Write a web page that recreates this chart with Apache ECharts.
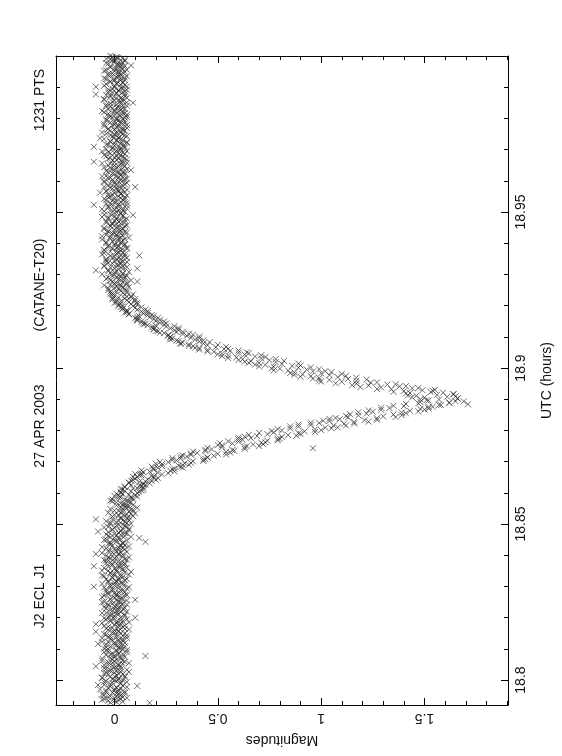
<!DOCTYPE html>
<html><head><meta charset="utf-8">
<script src="https://cdn.jsdelivr.net/npm/echarts@6/dist/echarts.min.js"></script>
<style>html,body{margin:0;padding:0;background:#fff}#c{width:562px;height:756px}</style>
</head><body><div id="c"></div>
<script>
// ---- data (UTC hours, magnitudes), two interleaved read-outs per phase ----
const preUtc=[18.7927,18.7930,18.7933,18.7936,18.7939,18.7942,18.7945,18.7948,18.7951,18.7954,
18.7957,18.7960,18.7963,18.7966,18.7969,18.7972,18.7975,18.7978,18.7981,18.7984,
18.7987,18.7990,18.7993,18.7996,18.7999,18.8002,18.8005,18.8008,18.8011,18.8014,
18.8017,18.8020,18.8023,18.8026,18.8029,18.8032,18.8035,18.8038,18.8041,18.8044,
18.8047,18.8050,18.8053,18.8056,18.8059,18.8062,18.8065,18.8068,18.8071,18.8074,
18.8077,18.8080,18.8083,18.8086,18.8089,18.8092,18.8095,18.8098,18.8101,18.8104,
18.8107,18.8110,18.8113,18.8116,18.8119,18.8122,18.8125,18.8128,18.8131,18.8134,
18.8137,18.8140,18.8143,18.8146,18.8149,18.8152,18.8155,18.8158,18.8161,18.8164,
18.8167,18.8170,18.8173,18.8176,18.8179,18.8182,18.8185,18.8188,18.8191,18.8194,
18.8197,18.8200,18.8203,18.8206,18.8209,18.8212,18.8215,18.8218,18.8221,18.8224,
18.8227,18.8230,18.8233,18.8236,18.8239,18.8242,18.8245,18.8248,18.8251,18.8254,
18.8257,18.8260,18.8263,18.8266,18.8269,18.8272,18.8275,18.8278,18.8281,18.8284,
18.8287,18.8290,18.8293,18.8296,18.8299,18.8302,18.8305,18.8308,18.8311,18.8314,
18.8317,18.8320,18.8323,18.8326,18.8329,18.8332,18.8335,18.8338,18.8341,18.8344,
18.8347,18.8350,18.8353,18.8356,18.8359,18.8362,18.8365,18.8368,18.8371,18.8374,
18.8377,18.8380,18.8383,18.8386,18.8389,18.8392,18.8395,18.8398,18.8401,18.8404,
18.8407,18.8410,18.8413,18.8416,18.8419,18.8422,18.8425,18.8428,18.8431,18.8434,
18.8437,18.8440,18.8443,18.8446,18.8449,18.8452,18.8455,18.8458,18.8461,18.8464,
18.8467,18.8470,18.8473,18.8476,18.8479,18.8482,18.8485,18.8488,18.8491,18.8494,
18.8497,18.8500,18.8503,18.8506,18.8509,18.8512,18.8515,18.8518,18.8521,18.8524,
18.8527,18.8530,18.8533,18.8536,18.8539,18.8542,18.8545,18.8548,18.8551,18.8554,
18.8557,18.8560,18.8563,18.8566];
const preMag=[0.17,0.01,-0.03,0.02,-0.05,0.00,0.04,-0.02,0.03,-0.06,
0.01,-0.01,0.05,-0.04,0.02,0.00,-0.03,0.06,0.11,-0.08,
-0.02,0.03,-0.05,0.01,0.04,-0.01,0.02,-0.06,0.00,0.05,
-0.03,0.02,-0.04,0.07,0.01,-0.02,0.03,-0.05,0.00,-0.09,
0.02,-0.03,0.04,-0.01,0.05,-0.06,0.01,0.03,-0.02,0.00,
0.15,-0.04,0.02,-0.01,0.06,-0.03,0.01,0.04,-0.05,0.02,
-0.02,0.03,0.00,-0.08,0.05,-0.03,0.02,-0.01,0.04,-0.06,
0.01,-0.02,0.06,-0.04,0.03,0.00,-0.09,0.02,-0.03,0.05,
-0.01,0.04,-0.05,0.02,-0.09,0.01,0.07,-0.02,0.03,-0.04,
0.00,0.10,-0.03,0.05,-0.01,0.02,-0.06,0.03,0.01,-0.02,
0.04,-0.04,0.02,0.00,-0.03,0.06,-0.01,0.03,-0.05,0.01,
0.10,-0.02,0.03,-0.06,0.01,0.05,-0.03,0.00,0.02,-0.04,
0.03,-0.01,0.06,-0.05,-0.10,0.02,-0.02,0.04,0.00,-0.03,
0.01,0.05,-0.04,0.02,-0.01,0.03,-0.06,0.07,0.00,-0.02,
0.08,-0.03,0.01,0.04,-0.05,0.02,-0.10,0.03,-0.01,0.05,
-0.02,0.02,-0.04,0.06,0.00,-0.03,0.04,-0.01,0.02,-0.09,
-0.06,0.03,0.01,-0.02,0.05,-0.04,0.02,0.07,-0.01,0.03,
-0.03,0.04,0.15,0.00,-0.05,0.03,0.12,-0.02,0.05,0.01,
-0.04,0.06,0.02,-0.08,0.03,-0.01,0.07,0.00,-0.03,0.05,
0.02,-0.02,0.06,0.01,-0.04,0.04,-0.09,0.03,0.07,-0.01,
0.05,0.00,0.08,-0.03,0.04,0.02,0.09,-0.02,0.06,0.03,
0.07,0.01,0.05,0.03];
const preUtc2=[18.7928,18.7931,18.7934,18.7937,18.7940,18.7943,18.7946,18.7949,18.7952,18.7955,
18.7958,18.7961,18.7964,18.7967,18.7970,18.7973,18.7976,18.7979,18.7982,18.7985,
18.7988,18.7991,18.7994,18.7997,18.8000,18.8003,18.8006,18.8009,18.8012,18.8015,
18.8018,18.8021,18.8024,18.8027,18.8030,18.8033,18.8036,18.8039,18.8042,18.8045,
18.8048,18.8051,18.8054,18.8057,18.8060,18.8063,18.8066,18.8069,18.8072,18.8075,
18.8078,18.8081,18.8084,18.8087,18.8090,18.8093,18.8096,18.8099,18.8102,18.8105,
18.8108,18.8111,18.8114,18.8117,18.8120,18.8123,18.8126,18.8129,18.8132,18.8135,
18.8138,18.8141,18.8144,18.8147,18.8150,18.8153,18.8156,18.8159,18.8162,18.8165,
18.8168,18.8171,18.8174,18.8177,18.8180,18.8183,18.8186,18.8189,18.8192,18.8195,
18.8198,18.8201,18.8204,18.8207,18.8210,18.8213,18.8216,18.8219,18.8222,18.8225,
18.8228,18.8231,18.8234,18.8237,18.8240,18.8243,18.8246,18.8249,18.8252,18.8255,
18.8258,18.8261,18.8264,18.8267,18.8270,18.8273,18.8276,18.8279,18.8282,18.8285,
18.8288,18.8291,18.8294,18.8297,18.8300,18.8303,18.8306,18.8309,18.8312,18.8315,
18.8318,18.8321,18.8324,18.8327,18.8330,18.8333,18.8336,18.8339,18.8342,18.8345,
18.8348,18.8351,18.8354,18.8357,18.8360,18.8363,18.8366,18.8369,18.8372,18.8375,
18.8378,18.8381,18.8384,18.8387,18.8390,18.8393,18.8396,18.8399,18.8402,18.8405,
18.8408,18.8411,18.8414,18.8417,18.8420,18.8423,18.8426,18.8429,18.8432,18.8435,
18.8438,18.8441,18.8444,18.8447,18.8450,18.8453,18.8456,18.8459,18.8462,18.8465,
18.8468,18.8471,18.8474,18.8477,18.8480,18.8483,18.8486,18.8489,18.8492,18.8495,
18.8498,18.8501,18.8504,18.8507,18.8510,18.8513,18.8516,18.8519,18.8522,18.8525,
18.8528,18.8531,18.8534,18.8537,18.8540,18.8543,18.8546,18.8549,18.8552,18.8555,
18.8558,18.8561,18.8564];
const preMag2=[-0.02,0.04,0.00,-0.06,0.03,0.06,-0.03,0.01,-0.05,0.02,
0.05,-0.04,0.02,0.00,-0.07,0.03,0.01,-0.02,0.04,-0.05,
0.03,-0.01,0.06,-0.04,0.00,0.02,-0.06,0.05,-0.02,0.01,
0.04,-0.05,0.00,0.03,-0.02,0.06,-0.04,0.01,0.03,-0.01,
-0.05,0.02,0.07,-0.03,0.00,0.04,-0.01,-0.06,0.03,0.05,
0.00,-0.02,0.04,0.02,-0.05,0.01,0.06,-0.03,0.03,-0.04,
0.05,0.01,-0.04,0.03,0.00,-0.06,0.04,0.02,-0.02,0.06,
-0.03,0.04,0.01,-0.05,0.05,-0.01,0.02,0.00,0.07,-0.04,
0.02,-0.03,0.05,0.00,0.03,-0.06,0.01,0.04,-0.02,0.06,
-0.05,0.03,0.00,-0.02,0.05,0.01,-0.04,0.06,-0.01,0.02,
0.00,0.05,-0.05,0.03,0.01,-0.03,0.04,-0.06,0.02,0.06,
-0.02,0.04,0.00,0.02,-0.05,0.06,0.01,-0.03,0.05,-0.01,
0.04,-0.04,0.02,0.07,-0.02,0.00,0.05,-0.06,0.03,0.01,
-0.03,0.02,0.06,-0.01,0.04,-0.05,0.00,0.03,-0.02,0.05,
0.01,-0.06,0.04,0.00,0.06,-0.03,0.02,-0.01,0.05,-0.04,
0.03,0.00,-0.05,0.05,-0.02,0.07,0.01,-0.04,0.04,0.02,
-0.01,0.06,-0.03,0.02,0.00,0.04,-0.06,0.03,0.05,-0.02,
0.04,-0.02,0.01,0.06,-0.04,0.02,0.00,0.08,-0.03,0.03,
0.00,0.05,-0.03,0.03,0.07,-0.01,0.04,-0.05,0.06,0.01,
0.04,0.08,-0.02,0.05,0.02,0.07,-0.01,0.06,0.03,0.09,
0.02,0.06,0.10,0.03,0.07,0.00,0.08,0.04,0.11,0.05,
0.06,0.09,0.04];
const ingressUtc=[18.8569,18.8572,18.8575,18.8578,18.8581,18.8584,18.8587,18.8590,18.8593,18.8596,
18.8599,18.8602,18.8605,18.8608,18.8611,18.8614,18.8617,18.8620,18.8623,18.8626,
18.8629,18.8632,18.8635,18.8638,18.8641,18.8644,18.8647,18.8650,18.8653,18.8656,
18.8659,18.8662,18.8665,18.8668,18.8671,18.8674,18.8677,18.8680,18.8683,18.8686,
18.8689,18.8692,18.8695,18.8698,18.8701,18.8704,18.8707,18.8710,18.8713,18.8716,
18.8719,18.8722,18.8725,18.8728,18.8731,18.8734,18.8737,18.8740,18.8743,18.8746,
18.8749,18.8752,18.8755,18.8758,18.8761,18.8764,18.8767,18.8770,18.8773,18.8776,
18.8779,18.8782,18.8785,18.8788,18.8791,18.8794,18.8797,18.8800,18.8803,18.8806,
18.8809,18.8812,18.8815,18.8818,18.8821,18.8824,18.8827,18.8830,18.8833,18.8836,
18.8839,18.8842,18.8845,18.8848,18.8851,18.8854,18.8857,18.8860,18.8863,18.8866,
18.8869,18.8872,18.8875,18.8878,18.8881,18.8884,18.8887,18.8890,18.8893,18.8896];
const ingressMag=[0.01,0.07,-0.02,0.05,0.09,0.02,0.08,0.00,0.10,0.04,
0.11,0.03,0.08,0.13,0.04,0.09,0.14,0.05,0.12,0.15,
0.14,0.07,0.12,0.18,0.09,0.16,0.21,0.11,0.19,0.13,
0.23,0.13,0.21,0.17,0.27,0.19,0.29,0.21,0.32,0.23,
0.33,0.23,0.34,0.26,0.38,0.30,0.43,0.32,0.45,0.35,
0.48,0.37,0.50,0.40,0.54,0.44,0.57,0.47,0.96,0.52,
0.64,0.52,0.67,0.57,0.71,0.60,0.74,0.62,0.79,0.66,
0.81,0.69,0.84,0.74,0.89,0.77,0.92,0.81,0.97,0.85,
1.02,0.89,1.06,0.95,1.11,0.99,1.16,1.04,1.21,1.09,
1.27,1.13,1.30,1.18,1.35,1.22,1.39,1.25,1.43,1.29,
1.48,1.33,1.52,1.40,1.58,1.71,1.47,1.62,1.69,1.52];
const ingressUtc2=[18.8570,18.8573,18.8576,18.8579,18.8582,18.8585,18.8588,18.8591,18.8594,18.8597,
18.8600,18.8603,18.8606,18.8609,18.8612,18.8615,18.8618,18.8621,18.8624,18.8627,
18.8630,18.8633,18.8636,18.8639,18.8642,18.8645,18.8648,18.8651,18.8654,18.8657,
18.8660,18.8663,18.8666,18.8669,18.8672,18.8675,18.8678,18.8681,18.8684,18.8687,
18.8690,18.8693,18.8696,18.8699,18.8702,18.8705,18.8708,18.8711,18.8714,18.8717,
18.8720,18.8723,18.8726,18.8729,18.8732,18.8735,18.8738,18.8741,18.8744,18.8747,
18.8750,18.8753,18.8756,18.8759,18.8762,18.8765,18.8768,18.8771,18.8774,18.8777,
18.8780,18.8783,18.8786,18.8789,18.8792,18.8795,18.8798,18.8801,18.8804,18.8807,
18.8810,18.8813,18.8816,18.8819,18.8822,18.8825,18.8828,18.8831,18.8834,18.8837,
18.8840,18.8843,18.8846,18.8849,18.8852,18.8855,18.8858,18.8861,18.8864,18.8867,
18.8870,18.8873,18.8876,18.8879,18.8882,18.8885,18.8888,18.8891,18.8894,18.8897];
const ingressMag2=[0.08,-0.01,0.06,-0.01,0.08,0.03,0.11,0.02,0.07,0.01,
0.03,0.12,0.05,0.14,0.03,0.11,0.05,0.13,0.08,0.14,
0.17,0.07,0.15,0.08,0.20,0.10,0.19,0.09,0.18,0.12,
0.10,0.26,0.14,0.29,0.13,0.28,0.19,0.33,0.18,0.31,
0.36,0.20,0.37,0.22,0.43,0.28,0.44,0.28,0.45,0.32,
0.33,0.54,0.37,0.56,0.38,0.58,0.44,0.63,0.45,0.63,
0.70,0.50,0.72,0.51,0.73,0.55,0.79,0.60,0.80,0.60,
0.63,0.88,0.65,0.90,0.70,0.97,0.76,1.00,0.79,1.05,
1.08,0.85,1.12,0.89,1.16,0.95,1.23,1.01,1.27,1.04,
1.07,1.36,1.12,1.39,1.14,1.41,1.18,1.47,1.23,1.50,
1.52,1.29,1.54,1.35,1.57,1.41,1.62,1.48,1.65,1.51];
const egressUtc=[18.8899,18.8902,18.8905,18.8908,18.8911,18.8914,18.8917,18.8920,18.8923,18.8926,
18.8929,18.8932,18.8935,18.8938,18.8941,18.8944,18.8947,18.8950,18.8953,18.8956,
18.8959,18.8962,18.8965,18.8968,18.8971,18.8974,18.8977,18.8980,18.8983,18.8986,
18.8989,18.8992,18.8995,18.8998,18.9001,18.9004,18.9007,18.9010,18.9013,18.9016,
18.9019,18.9022,18.9025,18.9028,18.9031,18.9034,18.9037,18.9040,18.9043,18.9046,
18.9049,18.9052,18.9055,18.9058,18.9061,18.9064,18.9067,18.9070,18.9073,18.9076,
18.9079,18.9082,18.9085,18.9088,18.9091,18.9094,18.9097,18.9100,18.9103,18.9106,
18.9109,18.9112,18.9115,18.9118,18.9121,18.9124,18.9127,18.9130,18.9133,18.9136,
18.9139,18.9142,18.9145,18.9148,18.9151,18.9154,18.9157,18.9160,18.9163,18.9166,
18.9169,18.9172,18.9175,18.9178,18.9181,18.9184,18.9187,18.9190,18.9193,18.9196,
18.9199,18.9202,18.9205,18.9208,18.9211,18.9214,18.9217,18.9220,18.9223,18.9226,
18.9229,18.9232,18.9235,18.9238,18.9241,18.9244,18.9247,18.9250];
const egressMag=[1.57,1.66,1.50,1.61,1.46,1.56,1.64,1.43,1.53,1.40,
1.49,1.34,1.44,1.29,1.38,1.23,1.32,1.17,1.24,1.10,
1.17,1.04,1.13,0.99,1.08,0.95,1.04,0.91,1.00,0.87,
0.96,0.84,0.93,0.80,0.89,0.77,0.86,0.73,0.81,0.70,
0.78,0.66,0.75,0.62,0.71,0.59,0.68,0.55,0.63,0.52,
0.60,0.48,0.56,0.45,0.53,0.41,0.49,0.38,0.45,0.36,
0.43,0.33,0.41,0.30,0.39,0.28,0.37,0.27,0.35,0.26,
0.33,0.24,0.30,0.21,0.29,0.19,0.27,0.18,0.25,0.20,
0.24,0.15,0.22,0.13,0.20,0.11,0.19,0.10,0.17,0.12,
0.16,0.07,0.14,0.05,0.13,0.06,0.11,0.04,0.10,0.03,
0.09,0.02,0.08,0.00,0.07,0.03,0.06,-0.01,0.05,0.02,
0.06,0.00,0.05,-0.02,0.04,0.01,0.03,-0.03];
const egressUtc2=[18.8900,18.8903,18.8906,18.8909,18.8912,18.8915,18.8918,18.8921,18.8924,18.8927,
18.8930,18.8933,18.8936,18.8939,18.8942,18.8945,18.8948,18.8951,18.8954,18.8957,
18.8960,18.8963,18.8966,18.8969,18.8972,18.8975,18.8978,18.8981,18.8984,18.8987,
18.8990,18.8993,18.8996,18.8999,18.9002,18.9005,18.9008,18.9011,18.9014,18.9017,
18.9020,18.9023,18.9026,18.9029,18.9032,18.9035,18.9038,18.9041,18.9044,18.9047,
18.9050,18.9053,18.9056,18.9059,18.9062,18.9065,18.9068,18.9071,18.9074,18.9077,
18.9080,18.9083,18.9086,18.9089,18.9092,18.9095,18.9098,18.9101,18.9104,18.9107,
18.9110,18.9113,18.9116,18.9119,18.9122,18.9125,18.9128,18.9131,18.9134,18.9137,
18.9140,18.9143,18.9146,18.9149,18.9152,18.9155,18.9158,18.9161,18.9164,18.9167,
18.9170,18.9173,18.9176,18.9179,18.9182,18.9185,18.9188,18.9191,18.9194,18.9197,
18.9200,18.9203,18.9206,18.9209,18.9212,18.9215,18.9218,18.9221,18.9224,18.9227,
18.9230,18.9233,18.9236,18.9239,18.9242,18.9245,18.9248];
const egressMag2=[1.48,1.66,1.44,1.65,1.42,1.64,1.41,1.59,1.35,1.54,
1.55,1.27,1.47,1.19,1.41,1.15,1.36,1.07,1.27,1.00,
0.99,1.22,0.96,1.17,0.90,1.12,0.87,1.10,0.85,1.05,
1.02,0.77,0.99,0.76,0.95,0.70,0.90,0.68,0.89,0.65,
0.63,0.82,0.60,0.78,0.55,0.73,0.52,0.71,0.50,0.65,
0.64,0.45,0.60,0.41,0.55,0.39,0.54,0.36,0.50,0.32,
0.32,0.46,0.31,0.43,0.27,0.41,0.27,0.41,0.26,0.38,
0.36,0.22,0.33,0.20,0.31,0.19,0.31,0.19,0.29,0.16,
0.14,0.25,0.14,0.24,0.11,0.22,0.11,0.21,0.11,0.19,
0.18,0.07,0.16,0.06,0.16,0.06,0.15,0.04,0.13,0.04,
0.02,0.11,0.03,0.11,0.01,0.10,0.01,0.10,-0.01,0.08,
0.08,-0.01,0.09,-0.01,0.06,-0.02,0.06];
const postUtc=[18.9253,18.9256,18.9259,18.9262,18.9265,18.9268,18.9271,18.9274,18.9277,18.9280,
18.9283,18.9286,18.9289,18.9292,18.9295,18.9298,18.9301,18.9304,18.9307,18.9310,
18.9313,18.9316,18.9319,18.9322,18.9325,18.9328,18.9331,18.9334,18.9337,18.9340,
18.9343,18.9346,18.9349,18.9352,18.9355,18.9358,18.9361,18.9364,18.9367,18.9370,
18.9373,18.9376,18.9379,18.9382,18.9385,18.9388,18.9391,18.9394,18.9397,18.9400,
18.9403,18.9406,18.9409,18.9412,18.9415,18.9418,18.9421,18.9424,18.9427,18.9430,
18.9433,18.9436,18.9439,18.9442,18.9445,18.9448,18.9451,18.9454,18.9457,18.9460,
18.9463,18.9466,18.9469,18.9472,18.9475,18.9478,18.9481,18.9484,18.9487,18.9490,
18.9493,18.9496,18.9499,18.9502,18.9505,18.9508,18.9511,18.9514,18.9517,18.9520,
18.9523,18.9526,18.9529,18.9532,18.9535,18.9538,18.9541,18.9544,18.9547,18.9550,
18.9553,18.9556,18.9559,18.9562,18.9565,18.9568,18.9571,18.9574,18.9577,18.9580,
18.9583,18.9586,18.9589,18.9592,18.9595,18.9598,18.9601,18.9604,18.9607,18.9610,
18.9613,18.9616,18.9619,18.9622,18.9625,18.9628,18.9631,18.9634,18.9637,18.9640,
18.9643,18.9646,18.9649,18.9652,18.9655,18.9658,18.9661,18.9664,18.9667,18.9670,
18.9673,18.9676,18.9679,18.9682,18.9685,18.9688,18.9691,18.9694,18.9697,18.9700,
18.9703,18.9706,18.9709,18.9712,18.9715,18.9718,18.9721,18.9724,18.9727,18.9730,
18.9733,18.9736,18.9739,18.9742,18.9745,18.9748,18.9751,18.9754,18.9757,18.9760,
18.9763,18.9766,18.9769,18.9772,18.9775,18.9778,18.9781,18.9784,18.9787,18.9790,
18.9793,18.9796,18.9799,18.9802,18.9805,18.9808,18.9811,18.9814,18.9817,18.9820,
18.9823,18.9826,18.9829,18.9832,18.9835,18.9838,18.9841,18.9844,18.9847,18.9850,
18.9853,18.9856,18.9859,18.9862,18.9865,18.9868,18.9871,18.9874,18.9877,18.9880,
18.9883,18.9886,18.9889,18.9892,18.9895,18.9898,18.9901,18.9904,18.9907,18.9910,
18.9913,18.9916,18.9919,18.9922,18.9925,18.9928,18.9931,18.9934,18.9937,18.9940,
18.9943,18.9946,18.9949,18.9952,18.9955,18.9958,18.9961,18.9964,18.9967,18.9970,
18.9973,18.9976,18.9979,18.9982,18.9985,18.9988,18.9991,18.9994,18.9997,19.0000];
const postMag=[0.02,-0.03,0.04,0.01,-0.05,0.03,0.00,0.06,0.11,-0.02,
0.03,-0.04,0.01,0.05,-0.01,0.02,-0.06,0.04,0.00,-0.03,
-0.09,0.02,0.11,-0.02,0.04,-0.05,0.01,0.03,-0.03,0.06,
0.00,-0.04,0.03,0.02,-0.01,0.05,0.12,-0.06,0.01,0.04,
-0.02,0.03,-0.05,0.06,0.01,-0.03,0.02,0.00,0.05,-0.04,
0.03,-0.01,0.04,-0.06,0.02,0.07,-0.02,0.01,-0.04,0.03,
0.00,0.05,-0.03,0.02,-0.05,0.04,0.01,-0.02,0.06,-0.01,
0.03,-0.04,0.02,0.00,0.05,-0.03,0.01,-0.06,0.04,0.09,
-0.02,0.03,0.01,-0.05,0.04,0.00,0.06,-0.03,0.02,-0.01,
-0.10,0.04,-0.02,0.03,0.01,-0.04,0.05,0.00,-0.03,0.02,
0.06,-0.01,0.03,-0.07,0.02,-0.04,0.04,0.01,-0.02,0.10,
0.03,-0.03,0.05,0.00,-0.05,0.02,0.04,-0.01,0.06,-0.02,
0.01,-0.04,0.03,0.00,0.05,-0.03,0.02,0.08,-0.01,0.04,
-0.05,0.02,0.00,0.04,-0.02,0.06,-0.10,0.03,0.01,-0.03,
0.05,0.00,-0.04,0.03,0.02,-0.02,0.04,-0.06,0.01,0.03,
-0.01,0.05,-0.10,0.02,-0.03,0.04,0.00,0.06,-0.02,0.01,
0.03,-0.07,0.02,-0.01,0.05,0.00,-0.04,0.03,0.01,-0.02,
0.04,-0.03,0.06,0.01,-0.05,0.02,0.00,0.05,-0.02,0.03,
-0.04,0.01,0.04,-0.01,0.06,-0.03,0.02,0.00,0.05,-0.05,
0.02,0.00,-0.03,0.04,0.01,-0.02,0.06,-0.04,0.03,0.09,
-0.01,0.04,0.02,-0.05,0.03,0.00,0.05,-0.02,-0.09,0.01,
0.04,-0.03,0.02,0.06,-0.01,0.03,-0.09,0.00,0.05,-0.04,
0.01,0.04,-0.02,0.03,0.00,-0.05,0.05,0.02,-0.01,0.03,
-0.03,0.02,0.05,0.00,-0.04,0.04,0.01,-0.02,0.03,0.08,
0.02,-0.03,0.04,0.00,-0.01,0.05,-0.04,0.02,0.01,-0.02];
const postUtc2=[18.9254,18.9257,18.9260,18.9263,18.9266,18.9269,18.9272,18.9275,18.9278,18.9281,
18.9284,18.9287,18.9290,18.9293,18.9296,18.9299,18.9302,18.9305,18.9308,18.9311,
18.9314,18.9317,18.9320,18.9323,18.9326,18.9329,18.9332,18.9335,18.9338,18.9341,
18.9344,18.9347,18.9350,18.9353,18.9356,18.9359,18.9362,18.9365,18.9368,18.9371,
18.9374,18.9377,18.9380,18.9383,18.9386,18.9389,18.9392,18.9395,18.9398,18.9401,
18.9404,18.9407,18.9410,18.9413,18.9416,18.9419,18.9422,18.9425,18.9428,18.9431,
18.9434,18.9437,18.9440,18.9443,18.9446,18.9449,18.9452,18.9455,18.9458,18.9461,
18.9464,18.9467,18.9470,18.9473,18.9476,18.9479,18.9482,18.9485,18.9488,18.9491,
18.9494,18.9497,18.9500,18.9503,18.9506,18.9509,18.9512,18.9515,18.9518,18.9521,
18.9524,18.9527,18.9530,18.9533,18.9536,18.9539,18.9542,18.9545,18.9548,18.9551,
18.9554,18.9557,18.9560,18.9563,18.9566,18.9569,18.9572,18.9575,18.9578,18.9581,
18.9584,18.9587,18.9590,18.9593,18.9596,18.9599,18.9602,18.9605,18.9608,18.9611,
18.9614,18.9617,18.9620,18.9623,18.9626,18.9629,18.9632,18.9635,18.9638,18.9641,
18.9644,18.9647,18.9650,18.9653,18.9656,18.9659,18.9662,18.9665,18.9668,18.9671,
18.9674,18.9677,18.9680,18.9683,18.9686,18.9689,18.9692,18.9695,18.9698,18.9701,
18.9704,18.9707,18.9710,18.9713,18.9716,18.9719,18.9722,18.9725,18.9728,18.9731,
18.9734,18.9737,18.9740,18.9743,18.9746,18.9749,18.9752,18.9755,18.9758,18.9761,
18.9764,18.9767,18.9770,18.9773,18.9776,18.9779,18.9782,18.9785,18.9788,18.9791,
18.9794,18.9797,18.9800,18.9803,18.9806,18.9809,18.9812,18.9815,18.9818,18.9821,
18.9824,18.9827,18.9830,18.9833,18.9836,18.9839,18.9842,18.9845,18.9848,18.9851,
18.9854,18.9857,18.9860,18.9863,18.9866,18.9869,18.9872,18.9875,18.9878,18.9881,
18.9884,18.9887,18.9890,18.9893,18.9896,18.9899,18.9902,18.9905,18.9908,18.9911,
18.9914,18.9917,18.9920,18.9923,18.9926,18.9929,18.9932,18.9935,18.9938,18.9941,
18.9944,18.9947,18.9950,18.9953,18.9956,18.9959,18.9962,18.9965,18.9968,18.9971,
18.9974,18.9977,18.9980,18.9983,18.9986,18.9989,18.9992,18.9995,18.9998];
const postMag2=[0.05,0.00,0.07,0.03,-0.02,0.06,0.01,0.04,-0.01,0.08,
0.02,0.05,-0.03,0.03,0.06,0.00,0.04,-0.02,0.07,0.01,
-0.03,0.04,0.00,0.06,-0.05,0.02,0.05,-0.01,0.03,-0.04,
0.04,0.01,-0.04,0.06,0.00,-0.02,0.03,0.05,-0.05,0.02,
0.01,-0.05,0.04,-0.01,0.06,0.02,-0.03,0.05,0.00,0.03,
-0.04,0.02,0.00,0.05,-0.02,0.03,-0.06,0.04,0.01,-0.01,
0.06,-0.03,0.03,0.00,0.04,-0.05,0.02,0.05,-0.02,0.01,
-0.01,0.05,-0.04,0.03,0.01,0.06,-0.03,0.00,0.04,-0.05,
0.03,0.00,0.05,-0.02,0.02,-0.06,0.04,0.01,-0.03,0.06,
0.02,-0.04,0.06,0.00,-0.01,0.04,-0.05,0.03,0.05,-0.02,
-0.03,0.03,0.00,0.05,-0.04,0.02,0.06,-0.01,0.01,-0.05,
0.04,0.01,-0.02,0.06,0.00,-0.05,0.03,0.05,-0.03,0.02,
-0.06,0.03,0.05,-0.01,0.02,0.04,-0.04,0.00,0.06,-0.02,
0.01,0.05,-0.03,0.03,-0.06,0.00,0.04,-0.01,0.06,0.02,
-0.02,0.04,0.01,-0.05,0.05,0.00,-0.03,0.06,0.02,-0.04,
0.03,-0.01,0.05,0.00,-0.04,0.03,0.06,-0.02,0.01,0.04,
-0.05,0.02,0.00,0.06,-0.02,0.04,0.01,-0.06,0.03,0.05,
0.00,-0.03,0.04,0.02,-0.01,0.06,-0.05,0.03,0.00,0.05,
0.02,-0.04,0.01,0.05,-0.02,0.03,0.06,-0.03,0.04,0.00,
-0.06,0.03,0.05,-0.01,0.02,-0.04,0.04,0.01,-0.02,0.06,
0.03,0.00,-0.05,0.04,0.06,-0.02,0.02,-0.04,0.05,0.01,
-0.01,0.05,0.02,-0.03,0.04,0.00,0.06,-0.05,0.03,0.01,
0.04,-0.02,0.00,0.05,-0.04,0.03,0.01,0.06,-0.03,0.02,
-0.01,0.04,0.02,-0.05,0.06,0.00,0.03,-0.02,0.05,0.01,
0.03,-0.04,0.02,0.05,0.00,-0.02,0.04,0.01,-0.01];

// ---- axes ticks / labels ----
const magMajor=[0,0.5,1,1.5];
const magMinor=[-0.2,-0.1,0.1,0.2,0.3,0.4,0.6,0.7,0.8,0.9,1.1,1.2,1.3,1.4,1.6,1.7,1.8,1.9];
const utcMajor=[18.8,18.85,18.9,18.95,19.0];
const utcLabels=[18.8,18.85,18.9,18.95];
const utcMinor=[18.81,18.82,18.83,18.84,18.86,18.87,18.88,18.89,18.91,18.92,18.93,18.94,18.96,18.97,18.98,18.99];
const magRange=[-0.283,1.904];
const utcRange=[18.792,19.0];
const titleParts=['J2 ECL J1','27 APR 2003','(CATANE-T20)','1231 PTS'];

const FONT='"Liberation Sans", Arial, sans-serif';
function pairs(u,m){return m.map((v,i)=>[v,u[i]]);}
const points=[].concat(pairs(preUtc,preMag),pairs(preUtc2,preMag2),
  pairs(ingressUtc,ingressMag),pairs(ingressUtc2,ingressMag2),
  pairs(egressUtc,egressMag),pairs(egressUtc2,egressMag2),
  pairs(postUtc,postMag),pairs(postUtc2,postMag2));

function xAx(grid,pos,ticks,len,opts){
  return Object.assign({type:'value',gridIndex:grid,position:pos,min:magRange[0],max:magRange[1],
    splitLine:{show:false},
    axisLine:{show:grid===0,onZero:false,lineStyle:{color:'#000',width:1}},
    axisTick:{show:true,inside:true,length:len,customValues:ticks,lineStyle:{color:'#000',width:1}},
    axisLabel:{show:false}},opts||{});
}
function yAx(grid,pos,ticks,len,opts){
  return Object.assign({type:'value',gridIndex:grid,position:pos,min:utcRange[0],max:utcRange[1],
    splitLine:{show:false},
    axisLine:{show:grid===0,onZero:false,lineStyle:{color:'#000',width:1}},
    axisTick:{show:true,inside:true,length:len,customValues:ticks,lineStyle:{color:'#000',width:1}},
    axisLabel:{show:false}},opts||{});
}
const gridBox={left:56,top:56,width:452,height:649};
const txt={fontSize:14,color:'#111',fontFamily:FONT};

const chart=echarts.init(document.getElementById('c'),null,{renderer:'canvas'});
chart.setOption({
  backgroundColor:'#fff',
  animation:false,
  grid:[Object.assign({},gridBox),Object.assign({},gridBox)],
  xAxis:[
    xAx(0,'bottom',magMajor,7,{
      axisLabel:Object.assign({show:true,customValues:magMajor,rotate:180,margin:6},txt),
      name:'Magnitudes',nameLocation:'middle',nameRotate:180,nameGap:28,nameTextStyle:txt}),
    xAx(0,'top',magMajor,7),
    xAx(1,'bottom',magMinor,4),
    xAx(1,'top',magMinor,4)
  ],
  yAxis:[
    yAx(0,'right',utcMajor,7,{
      axisLabel:Object.assign({show:true,customValues:utcLabels,rotate:90,margin:6},txt),
      name:'UTC (hours)',nameLocation:'middle',nameRotate:90,nameGap:32,nameTextStyle:txt}),
    yAx(0,'left',utcMajor,7),
    yAx(1,'right',utcMinor,4),
    yAx(1,'left',utcMinor,4)
  ],
  graphic:titleParts.map((t,i)=>({type:'text',x:40,y:[596,426,285,100][i],rotation:Math.PI/2,
    style:{text:t,fontSize:14,fontFamily:FONT,fill:'#111',align:'center',verticalAlign:'middle'}})),
  series:[{
    type:'scatter',xAxisIndex:0,yAxisIndex:0,
    symbol:'path://M0,0L10,10M10,0L0,10',symbolSize:6,
    itemStyle:{color:'rgba(0,0,0,0)',borderColor:'#2a2a2a',borderWidth:0.85},
    progressive:0,silent:true,
    data:points
  }]
});
</script></body></html>
